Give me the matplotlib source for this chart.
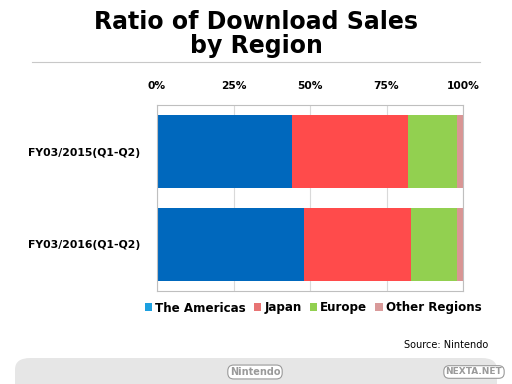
import matplotlib
matplotlib.use("Agg")
import matplotlib.pyplot as plt
from matplotlib.patches import FancyBboxPatch, Patch
from matplotlib.lines import Line2D

categories = ["FY03/2015(Q1-Q2)", "FY03/2016(Q1-Q2)"]
regions = ["The Americas", "Japan", "Europe", "Other Regions"]
americas = [44, 48]
japan = [38, 35]
europe = [16, 15]
other = [2, 2]
series = [americas, japan, europe, other]
bar_colors = ["#0068bd", "#ff4b4b", "#92d050", "#d99594"]
legend_colors = ["#1ca0e0", "#e87474", "#92d050", "#d99a9a"]
tick_vals = [0, 25, 50, 75, 100]
tick_labels = ["0%", "25%", "50%", "75%", "100%"]

fig = plt.figure(figsize=(5.12, 3.84), dpi=100)
ax = fig.add_axes([157/512, 93/384, 306/512, 186/384])

ypos = list(range(len(categories)))
left = [0] * len(categories)
for vals, col, name in zip(series, bar_colors, regions):
    ax.barh(ypos, vals, left=left, height=0.775, color=col, label=name, zorder=2)
    left = [l + v for l, v in zip(left, vals)]

ax.set_xlim(0, 100)
ax.set_ylim(1.5, -0.5)
ax.set_xticks(tick_vals)
ax.set_xticklabels(tick_labels, fontsize=7.7, fontweight="bold")
ax.xaxis.tick_top()
ax.tick_params(axis="x", length=0, pad=10)
ax.set_yticks(ypos)
ax.set_yticklabels(categories, fontsize=7.8, fontweight="bold")
ax.tick_params(axis="y", length=0, pad=12)
ax.grid(axis="x", color="#d9d9d9", linewidth=0.8, zorder=0)
for s in ax.spines.values():
    s.set_color("#bfbfbf")
    s.set_linewidth(0.8)

handles = [Patch(facecolor=c, edgecolor="none") for c in legend_colors]
fig.legend(handles, regions, loc="center", bbox_to_anchor=(313/512, 1 - 308/384),
           ncol=4, frameon=False, prop={"weight": "bold", "size": 8.6},
           handlelength=0.6, handleheight=0.6, handletextpad=0.25, columnspacing=0.7)

fig.text(0.5, 1 - 34/384, "Ratio of Download Sales\nby Region", ha="center", va="center",
         fontsize=17, fontweight="bold", linespacing=1.0)
fig.add_artist(Line2D([32/512, 480/512], [1 - 62/384, 1 - 62/384], color="#c8c8c8", linewidth=0.8))

fig.text(488/512, 1 - 345/384, "Source: Nintendo", ha="right", va="center", fontsize=7)

footer = FancyBboxPatch((15/512, -0.05), 482/512, (384 - 358)/384 + 0.05,
                        boxstyle="round,pad=0,rounding_size=0.03",
                        transform=fig.transFigure, facecolor="#e6e6e6", edgecolor="none")
fig.add_artist(footer)
fig.text(255/512, 1 - 372/384, "Nintendo", ha="center", va="center", fontsize=7,
         fontweight="bold", color="#9a9a9a",
         bbox=dict(boxstyle="round,pad=0.2,rounding_size=0.6", facecolor="white",
                   edgecolor="#9a9a9a", linewidth=0.8))
fig.text(474/512, 1 - 372/384, "NEXTA.NET", ha="center", va="center", fontsize=6.5,
         fontweight="bold", color="#9a9a9a",
         bbox=dict(boxstyle="round,pad=0.2,rounding_size=0.6", facecolor="white",
                   edgecolor="#9a9a9a", linewidth=0.8))

fig.savefig("out.png", dpi=100)
